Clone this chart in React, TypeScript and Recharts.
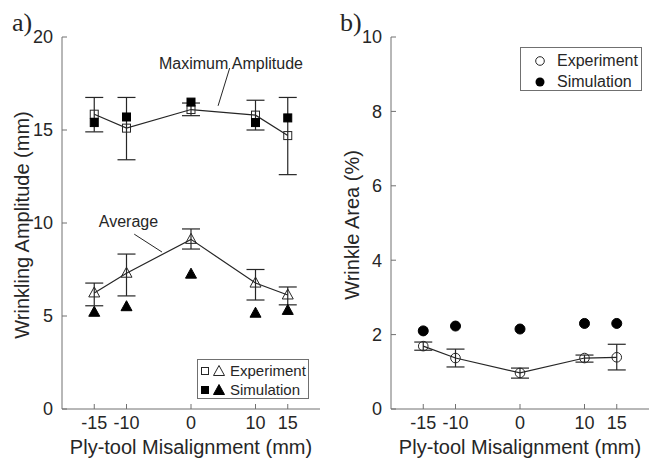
import React from "react";
import {
  ComposedChart,
  Line,
  XAxis,
  YAxis,
  ErrorBar,
  ReferenceLine,
  ReferenceDot,
  Legend,
} from "recharts";

// ply-tool misalignment (mm)
const misalignment = [-15, -10, 0, 10, 15];
const xTicks = [-15, -10, 0, 10, 15];
const ampTicks = [0, 5, 10, 15, 20];
const areaTicks = [0, 2, 4, 6, 8, 10];

// a) wrinkling amplitude (mm)
const maxExp = [15.85, 15.1, 16.1, 15.8, 14.7];
const maxExpLow = [14.9, 13.4, 15.77, 15.0, 12.6];
const maxExpHigh = [16.75, 16.75, 16.45, 16.6, 16.75];
const maxSim = [15.4, 15.7, 16.5, 15.4, 15.65];
const avgExp = [6.24, 7.3, 9.12, 6.77, 6.13];
const avgExpLow = [5.55, 6.08, 8.6, 5.86, 5.6];
const avgExpHigh = [6.77, 8.33, 9.68, 7.5, 6.56];
const avgSim = [5.2, 5.5, 7.25, 5.15, 5.3];

// b) wrinkle area (%)
const areaExp = [1.69, 1.37, 0.97, 1.37, 1.39];
const areaExpLow = [1.58, 1.13, 0.83, 1.26, 1.05];
const areaExpHigh = [1.8, 1.61, 1.1, 1.45, 1.74];
const areaSim = [2.1, 2.23, 2.15, 2.3, 2.3];

const FONT = '"Liberation Sans", Arial, sans-serif';
const INK = "#262626";
const AXIS = "#707070";

const err = (v: number, lo: number, hi: number) => [v - lo, hi - v];

const amplitudeRows = misalignment.map((x, i) => ({
  x,
  maxExp: maxExp[i],
  maxExpErr: err(maxExp[i], maxExpLow[i], maxExpHigh[i]),
  maxSim: maxSim[i],
  avgExp: avgExp[i],
  avgExpErr: err(avgExp[i], avgExpLow[i], avgExpHigh[i]),
  avgSim: avgSim[i],
}));

const areaRows = misalignment.map((x, i) => ({
  x,
  areaExp: areaExp[i],
  areaExpErr: err(areaExp[i], areaExpLow[i], areaExpHigh[i]),
  areaSim: areaSim[i],
}));

const square = (filled: boolean) => (p: any) =>
  p.cx == null ? null : (
    <rect
      key={`s${p.index}`}
      x={p.cx - 4}
      y={p.cy - 4}
      width={8}
      height={8}
      fill={filled ? "#000" : "none"}
      stroke={filled ? "#000" : INK}
      strokeWidth={1}
    />
  );

const triangle = (filled: boolean) => (p: any) =>
  p.cx == null ? null : (
    <polygon
      key={`t${p.index}`}
      points={`${p.cx},${p.cy - 6} ${p.cx - 5.5},${p.cy + 4} ${p.cx + 5.5},${p.cy + 4}`}
      fill={filled ? "#000" : "none"}
      stroke={filled ? "#000" : INK}
      strokeWidth={1}
    />
  );

const circle = (filled: boolean) => (p: any) =>
  p.cx == null ? null : (
    <circle
      key={`c${p.index}`}
      cx={p.cx}
      cy={p.cy}
      r={filled ? 5 : 4.8}
      fill={filled ? "#000" : "none"}
      stroke={filled ? "#000" : INK}
      strokeWidth={1}
    />
  );

const YTitle = (props: any) => {
  const { viewBox, text } = props;
  const x = 22;
  const y = viewBox.y + viewBox.height / 2 + 2;
  return (
    <text
      x={x}
      y={y}
      transform={`rotate(-90 ${x} ${y})`}
      textAnchor="middle"
      dominantBaseline="central"
      fill={INK}
      fontSize={20}
      fontFamily={FONT}
    >
      {text}
    </text>
  );
};

const XTitle = (props: any) => {
  const { viewBox, text } = props;
  return (
    <text
      x={viewBox.x + viewBox.width / 2}
      y={viewBox.y + 45}
      textAnchor="middle"
      fill={INK}
      fontSize={20}
      fontFamily={FONT}
    >
      {text}
    </text>
  );
};

const legendRow: React.CSSProperties = {
  display: "flex",
  alignItems: "center",
  height: 19,
  whiteSpace: "nowrap",
};

const AmplitudeLegend = () => (
  <div
    style={{
      width: 112,
      height: 40,
      boxSizing: "border-box",
      border: `1px solid ${AXIS}`,
      background: "#fff",
      fontFamily: FONT,
      fontSize: 15,
      color: INK,
      padding: "1px 0 0 1px",
    }}
  >
    <div style={legendRow}>
      <svg width={31} height={14}>
        <rect x={2.5} y={3.5} width={7} height={7} fill="none" stroke={INK} />
        <polygon points="20,1.5 14.5,11.5 25.5,11.5" fill="none" stroke={INK} />
      </svg>
      <span>Experiment</span>
    </div>
    <div style={legendRow}>
      <svg width={31} height={14}>
        <rect x={2.5} y={3.5} width={7} height={7} fill="#000" stroke="#000" />
        <polygon points="20,1.5 14.5,11.5 25.5,11.5" fill="#000" stroke="#000" />
      </svg>
      <span>Simulation</span>
    </div>
  </div>
);

const AreaLegend = () => (
  <div
    style={{
      width: 122,
      height: 44,
      boxSizing: "border-box",
      border: `1px solid ${AXIS}`,
      background: "#fff",
      fontFamily: FONT,
      fontSize: 16,
      color: INK,
      padding: "2px 0 0 0",
    }}
  >
    <div style={{ ...legendRow, height: 21 }}>
      <svg width={36} height={14}>
        <circle cx={19} cy={7} r={4.3} fill="none" stroke={INK} />
      </svg>
      <span>Experiment</span>
    </div>
    <div style={{ ...legendRow, height: 21 }}>
      <svg width={36} height={14}>
        <circle cx={19} cy={7} r={4.5} fill="#000" />
      </svg>
      <span>Simulation</span>
    </div>
  </div>
);

const tickStyle = { fill: INK, fontSize: 18, fontFamily: FONT };

const panelLabel = (left: number, text: string) => (
  <div
    style={{
      position: "absolute",
      left,
      top: 10,
      fontFamily: '"Liberation Serif", "Times New Roman", serif',
      fontSize: 26,
      lineHeight: "26px",
      color: INK,
    }}
  >
    {text}
  </div>
);

const AmplitudeChart = () => (
  <ComposedChart
    width={330}
    height={465}
    data={amplitudeRows}
    margin={{ top: 37, right: 10, bottom: 0, left: 0 }}
  >
    <XAxis
      xAxisId="b"
      dataKey="x"
      type="number"
      domain={[-20, 20]}
      ticks={xTicks}
      height={56}
      tickSize={-5}
      tickMargin={12}
      stroke={AXIS}
      tick={tickStyle}
      label={<XTitle text="Ply-tool Misalignment (mm)" />}
    />
    <XAxis
      xAxisId="t"
      orientation="top"
      dataKey="x"
      type="number"
      domain={[-20, 20]}
      ticks={xTicks}
      height={0}
      tickSize={-5}
      tickFormatter={() => ""}
      stroke={AXIS}
    />
    <YAxis
      yAxisId="l"
      type="number"
      domain={[0, 20]}
      ticks={ampTicks}
      width={62}
      tickSize={-5}
      tickMargin={14}
      stroke={AXIS}
      tick={tickStyle}
      label={<YTitle text="Wrinkling Amplitude (mm)" />}
    />
    <YAxis
      yAxisId="r"
      orientation="right"
      type="number"
      domain={[0, 20]}
      ticks={ampTicks}
      width={0}
      tickSize={-5}
      tickFormatter={() => ""}
      stroke={AXIS}
    />
    <ReferenceLine
      xAxisId="b"
      yAxisId="l"
      segment={[{ x: 6.0, y: 18.33 }, { x: 4.2, y: 16.3 }]}
      stroke={INK}
      strokeWidth={1}
    />
    <ReferenceLine
      xAxisId="b"
      yAxisId="l"
      segment={[{ x: -8.8, y: 9.4 }, { x: -4.5, y: 8.44 }]}
      stroke={INK}
      strokeWidth={1}
    />
    <ReferenceDot
      xAxisId="b"
      yAxisId="l"
      x={6.2}
      y={18.6}
      r={0}
      stroke="none"
      label={{ value: "Maximum Amplitude", position: "center", fill: INK, fontSize: 16, fontFamily: FONT }}
    />
    <ReferenceDot
      xAxisId="b"
      yAxisId="l"
      x={-9.7}
      y={10.1}
      r={0}
      stroke="none"
      label={{ value: "Average", position: "center", fill: INK, fontSize: 16, fontFamily: FONT }}
    />
    <Line
      xAxisId="b"
      yAxisId="l"
      dataKey="maxExp"
      stroke={INK}
      strokeWidth={1.2}
      dot={square(false)}
      activeDot={false}
      isAnimationActive={false}
    >
      <ErrorBar dataKey="maxExpErr" direction="y" width={9} stroke={INK} strokeWidth={1.2} />
    </Line>
    <Line
      xAxisId="b"
      yAxisId="l"
      dataKey="maxSim"
      stroke="none"
      dot={square(true)}
      activeDot={false}
      isAnimationActive={false}
    />
    <Line
      xAxisId="b"
      yAxisId="l"
      dataKey="avgExp"
      stroke={INK}
      strokeWidth={1.2}
      dot={triangle(false)}
      activeDot={false}
      isAnimationActive={false}
    >
      <ErrorBar dataKey="avgExpErr" direction="y" width={9} stroke={INK} strokeWidth={1.2} />
    </Line>
    <Line
      xAxisId="b"
      yAxisId="l"
      dataKey="avgSim"
      stroke="none"
      dot={triangle(true)}
      activeDot={false}
      isAnimationActive={false}
    />
    <Legend
      layout="vertical"
      align="center"
      verticalAlign="middle"
      wrapperStyle={{ left: 197, top: 359, width: 112, height: 40 }}
      content={<AmplitudeLegend />}
    />
  </ComposedChart>
);

const AreaChartPanel = () => (
  <ComposedChart
    width={321}
    height={465}
    data={areaRows}
    margin={{ top: 37, right: 2, bottom: 0, left: 0 }}
  >
    <XAxis
      xAxisId="b"
      dataKey="x"
      type="number"
      domain={[-20, 20]}
      ticks={xTicks}
      height={56}
      tickSize={-5}
      tickMargin={12}
      stroke={AXIS}
      tick={tickStyle}
      label={<XTitle text="Ply-tool Misalignment (mm)" />}
    />
    <XAxis
      xAxisId="t"
      orientation="top"
      dataKey="x"
      type="number"
      domain={[-20, 20]}
      ticks={xTicks}
      height={0}
      tickSize={-5}
      tickFormatter={() => ""}
      stroke={AXIS}
    />
    <YAxis
      yAxisId="l"
      type="number"
      domain={[0, 10]}
      ticks={areaTicks}
      width={61}
      tickSize={-5}
      tickMargin={14}
      stroke={AXIS}
      tick={tickStyle}
      label={<YTitle text="Wrinkle Area (%)" />}
    />
    <YAxis
      yAxisId="r"
      orientation="right"
      type="number"
      domain={[0, 10]}
      ticks={areaTicks}
      width={0}
      tickSize={-5}
      tickFormatter={() => ""}
      stroke={AXIS}
    />
    <Line
      xAxisId="b"
      yAxisId="l"
      dataKey="areaExp"
      stroke={INK}
      strokeWidth={1.2}
      dot={circle(false)}
      activeDot={false}
      isAnimationActive={false}
    >
      <ErrorBar dataKey="areaExpErr" direction="y" width={9} stroke={INK} strokeWidth={1.2} />
    </Line>
    <Line
      xAxisId="b"
      yAxisId="l"
      dataKey="areaSim"
      stroke="none"
      dot={circle(true)}
      activeDot={false}
      isAnimationActive={false}
    />
    <Legend
      layout="vertical"
      align="center"
      verticalAlign="middle"
      wrapperStyle={{ left: 190, top: 47, width: 122, height: 44 }}
      content={<AreaLegend />}
    />
  </ComposedChart>
);

export default function App() {
  return (
    <div
      style={{
        position: "absolute",
        left: 0,
        top: 0,
        width: 651,
        height: 465,
        background: "#fff",
        overflow: "hidden",
      }}
    >
      <div style={{ position: "absolute", left: 0, top: 0 }}>
        <AmplitudeChart />
      </div>
      <div style={{ position: "absolute", left: 330, top: 0 }}>
        <AreaChartPanel />
      </div>
      {panelLabel(12, "a)")}
      {panelLabel(340, "b)")}
    </div>
  );
}
